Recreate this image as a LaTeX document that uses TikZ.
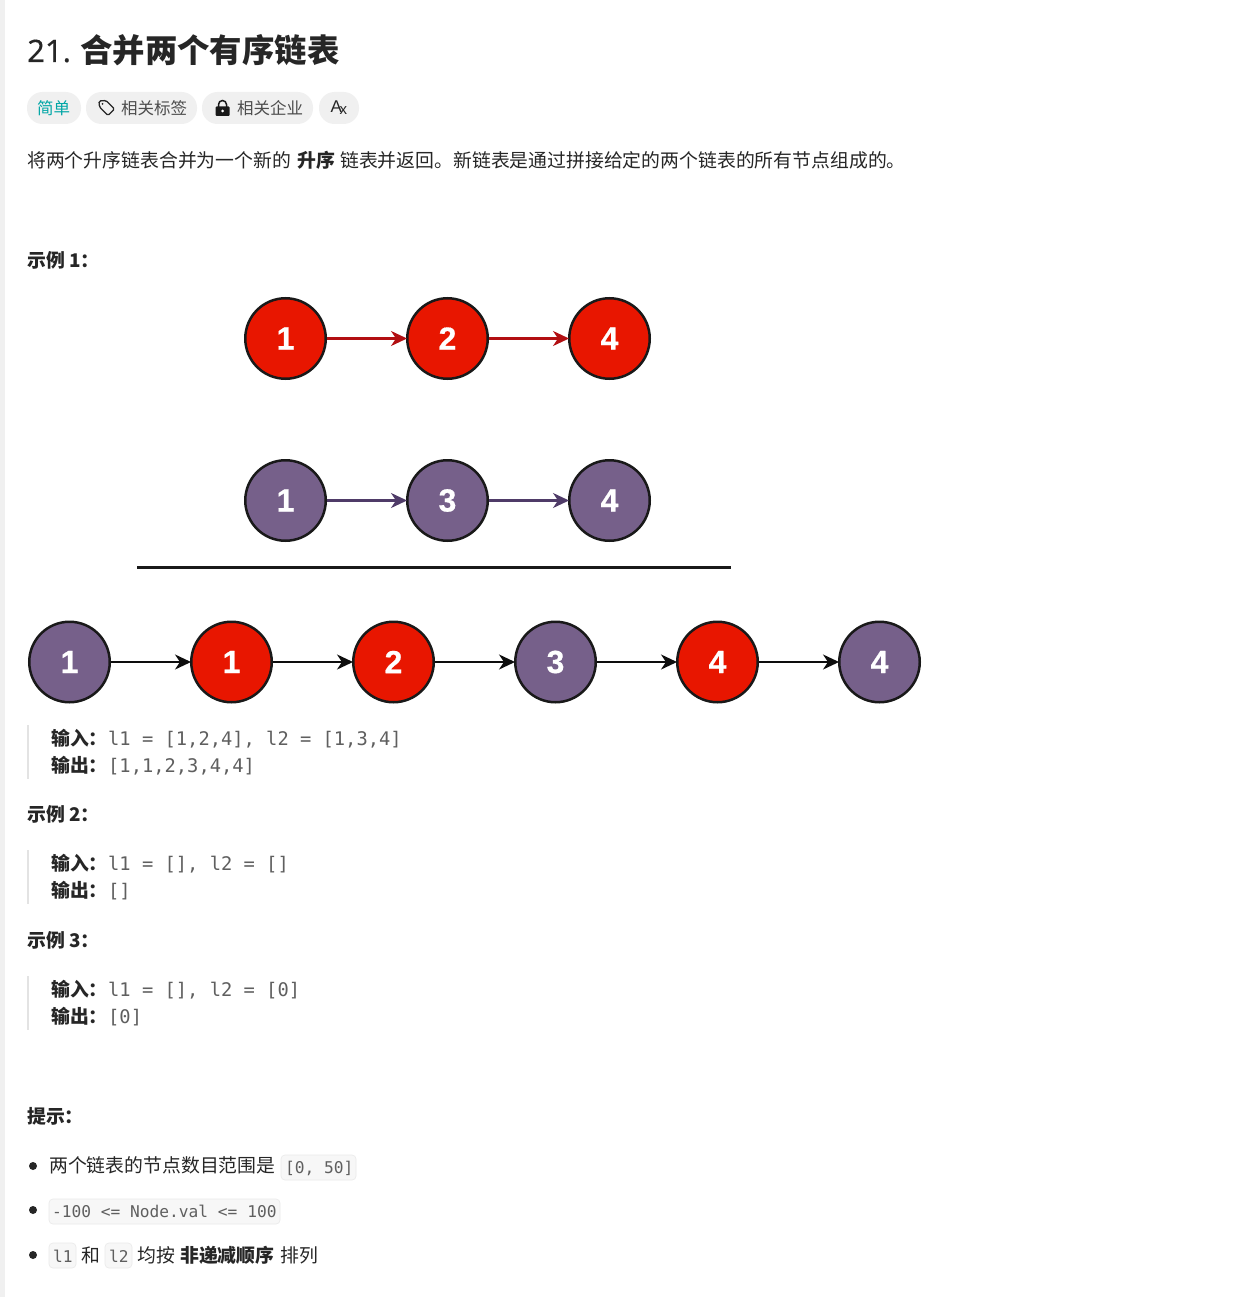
\documentclass[tikz,border=0pt]{standalone}
\usepackage{fontspec}
\usetikzlibrary{arrows.meta}
\setmainfont{Noto Sans CJK SC}
\setmonofont{DejaVu Sans Mono}
\newfontfamily\latinfont[FakeBold=0.25]{Noto Sans}
\newfontfamily\digitfont[FakeBold=0.5]{Liberation Sans Bold}
\newfontfamily\iconfont{Liberation Sans}
\definecolor{listred}{HTML}{E81600}
\definecolor{listpurple}{HTML}{76608A}
\definecolor{arrowred}{HTML}{B20F12}
\definecolor{arrowpurple}{HTML}{4F3B68}
\definecolor{codegray}{HTML}{5F5F5F}
\definecolor{inkdark}{HTML}{262626}
\definecolor{chipgray}{HTML}{F0F0F0}
\tikzset{
  listnode/.style={circle, draw=black!90, line width=2.5pt, minimum size=80.5pt, inner sep=0pt,
    text=white, font=\digitfont\fontsize{32}{32}\selectfont},
  rednode/.style={listnode, fill=listred},
  purplenode/.style={listnode, fill=listpurple},
  link/.style={-{Stealth[length=16pt, width=15pt, inset=5pt]}, line width=2.2pt, shorten >=-1pt},
  chip/.style={rounded corners=15.5pt, fill=chipgray},
  bodytext/.style={anchor=base west, inner sep=0pt, text=inkdark, font=\fontsize{18.85}{22}\selectfont},
  boldtext/.style={bodytext, font=\bfseries\fontsize{18.85}{22}\selectfont},
  chiptext/.style={bodytext, text=black!70, font=\fontsize{16.5}{20}\selectfont},
  codetext/.style={anchor=base west, inner sep=0pt, text=codegray, font=\ttfamily\fontsize{18.75}{22}\selectfont},
  smallcode/.style={anchor=base west, inner sep=0pt, text=codegray, font=\ttfamily\fontsize{16.2}{20}\selectfont},
  codebox/.style={rounded corners=4pt, fill=black!3, draw=black!8, line width=0.7pt},
  quotebar/.style={fill=black!11},
  dotmark/.style={circle, fill=inkdark, minimum size=8pt, inner sep=0pt}
}
\begin{document}
\begin{tikzpicture}[x=1pt, y=-1pt]
  \useasboundingbox (0,0) rectangle (1258,1297);
  \fill[white] (0,0) rectangle (1258,1297);
  % page edge
  \fill[chipgray] (0,0) rectangle (5,1297);
  % title
  \node[anchor=base west, inner sep=0pt, text=inkdark, font=\latinfont\fontsize{31}{36}\selectfont] (titlenum) at (27,62) {21.};
  \node[anchor=base west, inner sep=0pt, text=inkdark, font=\bfseries\fontsize{32.4}{36}\selectfont] (titletext) at (80,63) {合并两个有序链表};
  % chips
  \fill[chip] (27,92) rectangle (81,124);
  \fill[chip] (86,92) rectangle (197,124);
  \fill[chip] (202,92) rectangle (313,124);
  \fill[chip] (319,92) rectangle (359,124);
  \node[chiptext, text=teal!70!cyan] (easy) at (37,115) {简单};
  \node[chiptext] (tagtext) at (121,115) {相关标签};
  \node[chiptext] (comptext) at (237,115) {相关企业};
  \node[bodytext, font=\iconfont\fontsize{17}{20}\selectfont] (transa) at (330.5,113) {A};
  \node[bodytext, font=\iconfont\fontsize{15}{20}\selectfont] (transb) at (339.5,115) {x};
  % tag icon
  \draw[line width=1.3pt, black!85, rounded corners=1.5pt] (99,101) -- (106,100.5) -- (114.5,109) -- (108,115.5) -- (99.5,107) -- cycle;
  \fill[black!85] (102.5,104) circle (1pt);
  % lock icon
  \fill[black!90, rounded corners=1pt] (215.5,106.5) rectangle (229.5,116);
  \draw[line width=1.5pt, black!90] (218.5,107) -- (218.5,104.5) arc[start angle=180, end angle=360, radius=4] -- (226.5,107);
  \fill[white] (222.5,111) circle (1.5pt);
  % intro
  \node[bodytext] (intro) at (27,168) {将两个升序链表合并为一个新的};
  \node[boldtext] (introbold) at (297,168) {升序};
  \node[bodytext] (introrest) at (340,168) {链表并返回。新链表是通过拼接给定的两个链表的所有节点组成的。};
  \node[boldtext] (exone) at (27,267) {示例 1：};
  % l1
  \foreach \n/\x/\v in {a/285.5/1, b/447.5/2, c/609.5/4}
    \node[rednode] (\n) at (\x,338.5) {\v};
  \draw[link, arrowred] (a) -- (b);
  \draw[link, arrowred] (b) -- (c);
  % l2
  \foreach \n/\x/\v in {d/285.5/1, e/447.5/3, f/609.5/4}
    \node[purplenode] (\n) at (\x,500.5) {\v};
  \draw[link, arrowpurple] (d) -- (e);
  \draw[link, arrowpurple] (e) -- (f);
  % divider
  \coordinate (ruleleft) at (137,567.5);
  \coordinate (ruleright) at (731,567.5);
  \draw[line width=2.6pt, black!90] (ruleleft) -- (ruleright);
  % merged list, cut off by the image edge
  \begin{scope}
    \clip (20,612) rectangle (921,703);
    \node[purplenode] (g) at (69.5,662) {1};
    \node[rednode] (h) at (231.5,662) {1};
    \node[rednode] (i) at (393.5,662) {2};
    \node[purplenode] (j) at (555.5,662) {3};
    \node[rednode] (k) at (717.5,662) {4};
    \node[purplenode] (l) at (879.5,662) {4};
  \end{scope}
  \foreach \s/\t in {g/h, h/i, i/j, j/k, k/l}
    \draw[link, black!95] (\s) -- (\t);
  % example 1
  \fill[quotebar] (27,725) rectangle (29,779);
  \node[boldtext] (inone) at (51,745) {输入：};
  \node[codetext] (inonecode) at (108,745) {l1 = [1,2,4], l2 = [1,3,4]};
  \node[boldtext] (outone) at (51,772) {输出：};
  \node[codetext] (outonecode) at (108,772) {[1,1,2,3,4,4]};
  % example 2
  \node[boldtext] (extwo) at (27,821) {示例 2：};
  \fill[quotebar] (27,850) rectangle (29,904);
  \node[boldtext] (intwo) at (51,870) {输入：};
  \node[codetext] (intwocode) at (108,870) {l1 = [], l2 = []};
  \node[boldtext] (outtwo) at (51,897) {输出：};
  \node[codetext] (outtwocode) at (108,897) {[]};
  % example 3
  \node[boldtext] (exthree) at (27,947) {示例 3：};
  \fill[quotebar] (27,976) rectangle (29,1030);
  \node[boldtext] (inthree) at (51,996) {输入：};
  \node[codetext] (inthreecode) at (108,996) {l1 = [], l2 = [0]};
  \node[boldtext] (outthree) at (51,1023) {输出：};
  \node[codetext] (outthreecode) at (108,1023) {[0]};
  % hints
  \node[boldtext] (hints) at (27,1123) {提示：};
  \foreach \n/\y in {dota/1166, dotb/1210, dotc/1255}
    \node[dotmark] (\n) at (33,\y) {};
  \node[bodytext] (hinta) at (49,1172) {两个链表的节点数目范围是};
  \draw[codebox] (281,1155) rectangle (356,1180);
  \node[smallcode] (hintacode) at (285,1173) {[0, 50]};
  \draw[codebox] (49,1199) rectangle (280,1224);
  \node[smallcode] (hintbcode) at (52,1217) {-100 <= Node.val <= 100};
  \draw[codebox] (49,1243) rectangle (76,1268);
  \node[smallcode] (hintccode) at (53,1262) {l1};
  \node[bodytext] (hintand) at (81,1262) {和};
  \draw[codebox] (105,1243) rectangle (132,1268);
  \node[smallcode] (hintdcode) at (109,1262) {l2};
  \node[bodytext] (hintc) at (137,1262) {均按};
  \node[boldtext] (hintbold) at (180,1262) {非递减顺序};
  \node[bodytext] (hintend) at (280,1262) {排列};
\end{tikzpicture}
\end{document}
